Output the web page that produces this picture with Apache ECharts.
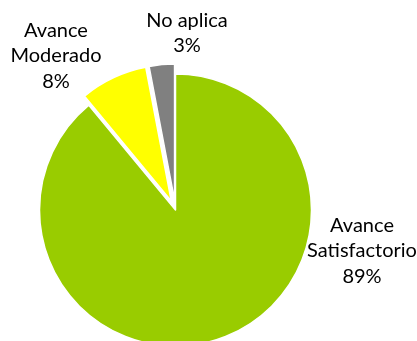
<!DOCTYPE html>
<html>
<head>
<meta charset="utf-8">
<script src="https://cdn.jsdelivr.net/npm/echarts@6/dist/echarts.min.js"></script>
<style>
html,body{margin:0;padding:0;background:#fff;}
#chart{width:417px;height:341px;}
</style>
</head>
<body>
<div id="chart"></div>
<script>
var categories = ['Avance\nSatisfactorio', 'Avance\nModerado', 'No aplica'];
var values = [89, 8, 3];
var exploded = [false, true, true];
var colors = ['#99CC00', '#FFFF00', '#808080'];

var labelPos = [[362, 251], [56, 56], [187, 33]];

var chart = echarts.init(document.getElementById('chart'), null, {renderer: 'canvas'});
var common = {
  type: 'pie',
  center: [175.5, 210],
  radius: 136,
  startAngle: 90,
  clockwise: true,
  avoidLabelOverlap: false,
  labelLine: { show: false },
  emphasis: { disabled: true, scale: false }
};
chart.setOption({
  animation: false,
  series: [
    Object.assign({}, common, {
      name: 'slices',
      selectedMode: 'multiple',
      selectedOffset: 10,
      itemStyle: { borderColor: '#ffffff', borderWidth: 1.5 },
      label: { show: false },
      select: { itemStyle: { borderColor: '#ffffff', borderWidth: 1.5 } },
      data: categories.map(function (c, i) {
        return { name: c, value: values[i], selected: exploded[i], itemStyle: { color: colors[i] } };
      })
    }),
    Object.assign({}, common, {
      name: 'labels',
      silent: true,
      z: 3,
      itemStyle: { color: 'rgba(0,0,0,0)', borderWidth: 0 },
      label: {
        show: true,
        position: 'outside',
        fontFamily: 'Lato',
        fontSize: 20,
        lineHeight: 25.5,
        color: '#000000',
        align: 'center',
        formatter: function (p) { return p.name + '\n' + p.value + '%'; }
      },
      labelLayout: function (p) {
        var pos = labelPos[p.dataIndex];
        return { x: pos[0], y: pos[1], align: 'center', verticalAlign: 'middle' };
      },
      data: categories.map(function (c, i) {
        return { name: c, value: values[i] };
      })
    })
  ]
});
</script>
</body>
</html>
